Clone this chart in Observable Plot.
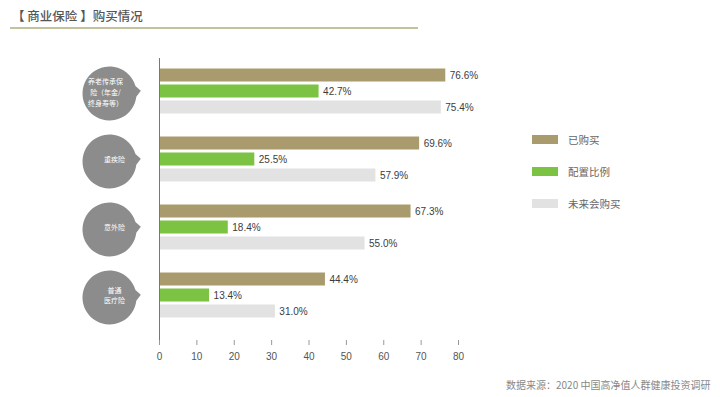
<!DOCTYPE html>
<html><head><meta charset="utf-8">
<script src="https://cdn.jsdelivr.net/npm/d3@7"></script>
<script src="https://cdn.jsdelivr.net/npm/@observablehq/plot@0.6"></script>
<style>
body{margin:0;background:#fff;font-family:"Noto Sans CJK SC","Liberation Sans",sans-serif;}
#wrap{position:relative;width:720px;height:397px;overflow:hidden;background:#fff;}
#chart{position:absolute;left:0;top:0;}
.title{position:absolute;left:12px;top:7px;font-size:12.5px;line-height:18px;color:#555;font-weight:500;white-space:pre;}
.rule{position:absolute;left:10px;top:27px;width:408px;height:2px;background:#c2c39c;}
.legend{position:absolute;left:532px;top:123px;}
.legend .item{display:flex;align-items:center;height:32px;}
.legend .sw{width:26px;height:9px;margin-right:10px;}
.legend .lb{font-size:10.5px;color:#666;}
.footer{position:absolute;left:506px;top:377px;font-size:10px;line-height:16px;color:#888;white-space:pre;}
</style>
</head><body>
<div id="wrap">
  <div id="chart"></div>
  <div class="title">【 商业保险 】购买情况</div>
  <div class="rule"></div>
  <div class="legend" id="legend"></div>
  <div class="footer">数据来源：2020 中国高净值人群健康投资调研</div>
</div>
<script>
const groups = ["养老传承保险（年金/终身寿等）", "重疾险", "意外险", "普通医疗险"];
const groupLabels = ["养老传承保\n险（年金/\n终身寿等）", "重疾险", "意外险", "普通\n医疗险"];
const series = ["已购买", "配置比例", "未来会购买"];
const bought = [76.6, 69.6, 67.3, 44.4];
const allocation = [42.7, 25.5, 18.4, 13.4];
const future = [75.4, 57.9, 55.0, 31.0];
const xTicks = [0, 10, 20, 30, 40, 50, 60, 70, 80];
const colors = ["#a99b6d", "#7cc243", "#e2e2e2"];

const valuesBySeries = [bought, allocation, future];
const rows = [];
series.forEach((s, si) => groups.forEach((g, gi) => rows.push({series: s, si, group: g, value: valuesBySeries[si][gi]})));
const labelRows = groups.map((g, i) => ({group: g, label: groupLabels[i], i}));

const offsets = [-16, 0, 16];
const barInset = 20.5;

function bubble() {
  return {
    draw(context, size) {
      const r = Math.sqrt(size / Math.PI);
      const a1 = -0.28, a2 = 0.12;
      context.moveTo(r * Math.cos(a1), r * Math.sin(a1));
      context.lineTo(r * 1.16, -r * 0.1);
      context.lineTo(r * Math.cos(a2), r * Math.sin(a2));
      context.arc(0, 0, r, a2, a1 + 2 * Math.PI);
      context.closePath();
    }
  };
}

const marks = [];
series.forEach((s, si) => {
  const d = rows.filter(r => r.si === si);
  marks.push(Plot.barX(d, {x: "value", y: "group", fill: colors[si], insetTop: barInset, insetBottom: barInset, dy: offsets[si]}));
  marks.push(Plot.text(d, {x: "value", y: "group", text: r => r.value.toFixed(1) + "%", dx: 4, dy: offsets[si], textAnchor: "start", fontSize: 10, fill: "#3c3c3c", fontFamily: "Liberation Sans, Arial, sans-serif"}));
});
marks.push(Plot.ruleX([0], {stroke: "#777", strokeWidth: 1}));
marks.push(Plot.dot(groups, {y: d => d, frameAnchor: "left", dx: -50, dy: 2, r: 27, symbol: bubble(), fill: "#8c8c8c", stroke: "none"}));
marks.push(Plot.text(labelRows.filter(d => d.i === 0), {y: "group", text: "label", frameAnchor: "left", dx: -54, dy: 0, textAnchor: "middle", fill: "#fff", fontSize: 7, lineHeight: 1.6}));
marks.push(Plot.text(labelRows.filter(d => d.i !== 0), {y: "group", text: "label", frameAnchor: "left", dx: -45, dy: -1, textAnchor: "middle", fill: "#fff", fontSize: 7, lineHeight: 1.45}));
marks.push(Plot.axisX(xTicks, {anchor: "bottom", tickSize: 5, dy: -5, tickFormat: () => "", stroke: "#999", label: null}));
marks.push(Plot.axisX(xTicks, {anchor: "bottom", tickSize: 0, tickPadding: 7, fontSize: 10, fill: "#555", fontFamily: "Liberation Sans, Arial, sans-serif", line: true, stroke: "#999", label: null}));

const chart = Plot.plot({
  width: 720,
  height: 397,
  marginLeft: 159,
  marginRight: 262,
  marginTop: 58,
  marginBottom: 52,
  style: {background: "transparent", fontFamily: "Noto Sans CJK SC, sans-serif"},
  x: {domain: [0, 80], axis: null, label: null},
  y: {domain: groups, paddingInner: 0.2, paddingOuter: 0.19, align: 0.21, axis: null, label: null},
  marks
});
document.getElementById("chart").appendChild(chart);

const legend = document.getElementById("legend");
series.forEach((s, i) => {
  const item = document.createElement("div");
  item.className = "item";
  item.innerHTML = `<div class="sw" style="background:${colors[i]}"></div><div class="lb">${s}</div>`;
  legend.appendChild(item);
});
</script>
</body></html>
